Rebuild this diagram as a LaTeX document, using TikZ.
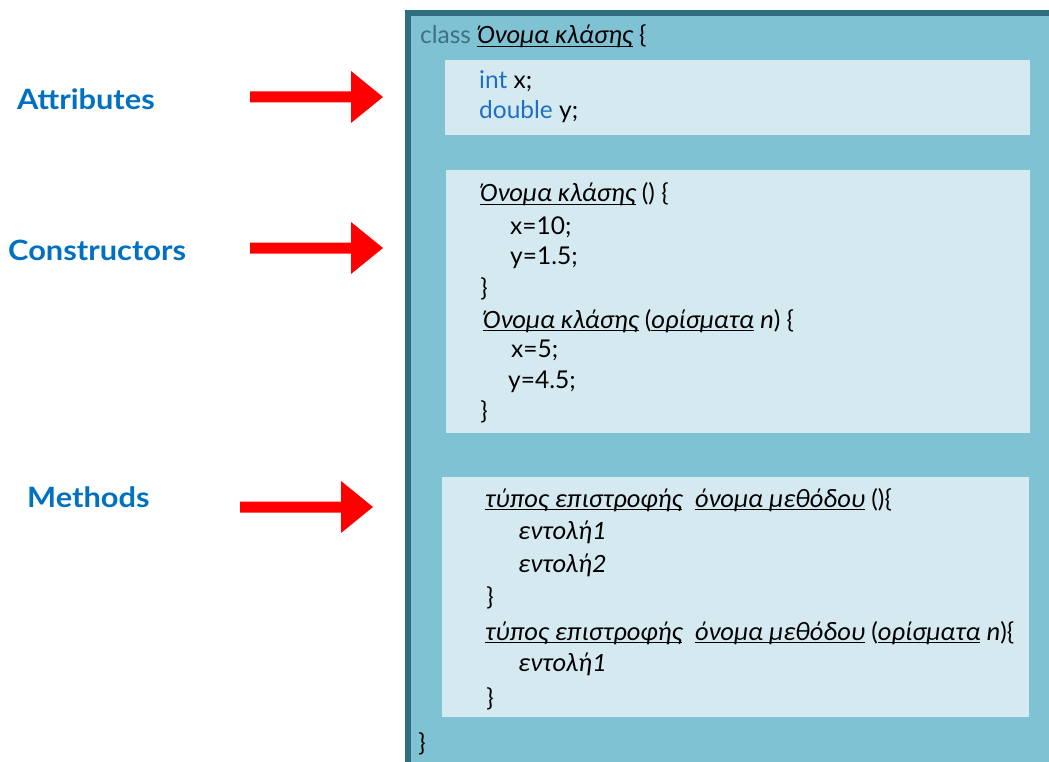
\documentclass[tikz,border=0pt]{standalone}
\usepackage{fontspec}
\setmainfont{Lato}
\newfontfamily\grkfont{Carlito}[Scale=1.08]
\newfontfamily\labfont{Lato}[FakeStretch=1.1]
\definecolor{framedark}{HTML}{2F6E7F}
\definecolor{panelblue}{HTML}{7FC2D4}
\definecolor{innerblue}{HTML}{D4EAF0}
\definecolor{labelblue}{HTML}{0070C0}
\definecolor{kwblue}{HTML}{1F6FC6}
\definecolor{clsgray}{HTML}{3C7282}
\definecolor{arrowred}{HTML}{FF0000}
% Greek identifiers in italics
\newcommand\gr[1]{{\grkfont\itshape #1}}
% underline drawn just under the baseline
\newcommand\undl[1]{\setbox0=\hbox{#1}\rlap{\rule[-3.4pt]{\wd0}{1.2pt}}\box0\relax}
\tikzset{
  code/.style={anchor=base west, inner sep=0pt, font=\fontsize{24.5}{29}\selectfont, text=black},
  bracenode/.style={anchor=center, inner sep=0pt, font=\fontsize{24.5}{29}\selectfont, text=black},
  lab/.style={anchor=base west, inner sep=0pt, font=\labfont\fontsize{28}{32}\selectfont\bfseries, text=labelblue},
  redarrow/.pic={\fill[arrowred] (0,-5.5) -- (101,-5.5) -- (101,-26) -- (133,0) -- (101,26) -- (101,5.5) -- (0,5.5) -- cycle;}
}
\begin{document}
\begin{tikzpicture}[x=1pt,y=-1pt]
\useasboundingbox (0,0) rectangle (1049,762);
% class panel with dark top and left edges
\fill[panelblue] (405,10) rectangle (1049,762);
\fill[framedark] (405,10) rectangle (1049,16);
\fill[framedark] (405,10) rectangle (411,762);
% member sections
\fill[innerblue] (445,60) rectangle (1030,135);
\fill[innerblue] (446,170) rectangle (1030,433);
\fill[innerblue] (442,477) rectangle (1029,717);

% header
\node[code] (hdr) at (420,44) {\textcolor{clsgray}{class} \undl{\gr{Όνομα κλάσης}} \{};
% attributes
\node[code] (a1) at (479,89) {\textcolor{kwblue}{int} x;};
\node[code] (a2) at (479,119) {\textcolor{kwblue}{double} y;};
% constructors
\node[code] (c1) at (480,202) {\undl{\gr{Όνομα κλάσης}} () \{};
\node[code] (c2) at (510,234) {x=10;};
\node[code] (c3) at (510,264) {y=1.5;};
\node[bracenode] (c4) at (484,289) {\}};
\node[code] (c5) at (483,328) {\undl{\gr{Όνομα κλάσης}} (\undl{\gr{ορίσματα}} \gr{n}) \{};
\node[code] (c6) at (511,357) {x=5;};
\node[code] (c7) at (508,388) {y=4.5;};
\node[bracenode] (c8) at (484,412) {\}};
% methods
\node[code] (m1) at (485,507) {\undl{\gr{τύπος επιστροφής}}\ \ \undl{\gr{όνομα μεθόδου}} ()\{};
\node[code] (m2) at (518,539) {\gr{εντολή1}};
\node[code] (m3) at (518,572) {\gr{εντολή2}};
\node[bracenode] (m4) at (490,598) {\}};
\node[code] (m5) at (485,640) {\undl{\gr{τύπος επιστροφής}}\ \ \undl{\gr{όνομα μεθόδου}} (\undl{\gr{ορίσματα}} \gr{n})\{};
\node[code] (m6) at (518,671) {\gr{εντολή1}};
\node[bracenode] (m7) at (490,699) {\}};
% closing brace of the class
\node[bracenode] (cend) at (422,744) {\}};

% section labels and arrows
\node[lab] (lattr) at (17,110) {Attributes};
\node[lab] (lcons) at (8,260) {Constructors};
\node[lab] (lmeth) at (27,507) {Methods};
\pic (arA) at (250,97) {redarrow};
\pic (arC) at (250,248) {redarrow};
\pic (arM) at (240,507) {redarrow};
\end{tikzpicture}
\end{document}
